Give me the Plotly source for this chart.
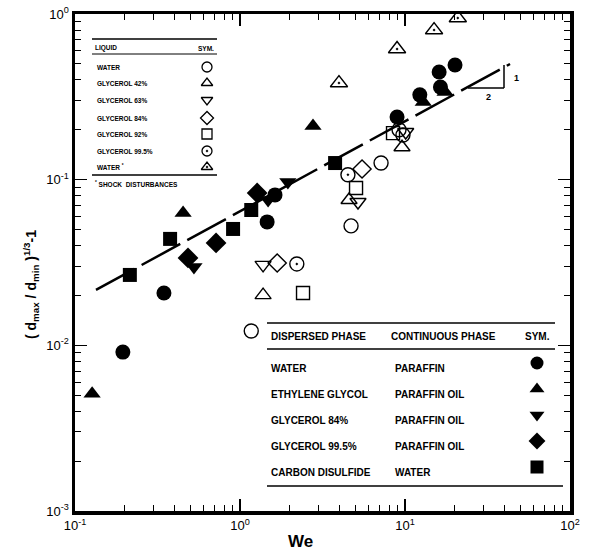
import plotly.graph_objects as go

# ---------------- data ----------------
water_paraffin_x = [0.195, 0.346, 1.46, 1.63, 8.95, 12.3, 16.1, 16.4, 20.1]
water_paraffin_y = [0.0091, 0.0207, 0.0556, 0.0809, 0.239, 0.325, 0.447, 0.362, 0.492]

ethylene_x = [0.127, 0.452, 2.77, 12.9, 17.5]
ethylene_y = [0.0051, 0.0630, 0.211, 0.294, 0.338]

gly84_paraffin_x = [0.526, 1.48, 1.95]
gly84_paraffin_y = [0.0297, 0.0754, 0.0968]

gly995_paraffin_x = [0.484, 0.716, 1.27]
gly995_paraffin_y = [0.0337, 0.0415, 0.0831]

cs2_water_x = [0.215, 0.377, 0.908, 1.17, 3.77]
cs2_water_y = [0.0266, 0.0439, 0.0504, 0.0656, 0.126]

liq_water_x = [1.17, 4.71, 7.16, 9.72]
liq_water_y = [0.0122, 0.0526, 0.126, 0.186]

liq_gly42_x = [1.38, 4.58, 9.59]
liq_gly42_y = [0.0201, 0.0754, 0.157]

liq_gly63_x = [1.38, 5.19, 10.1]
liq_gly63_y = [0.0306, 0.0733, 0.194]

liq_gly84_x = [1.68, 5.49]
liq_gly84_y = [0.0314, 0.116]

liq_gly92_x = [2.41, 5.05, 8.46]
liq_gly92_y = [0.0207, 0.0891, 0.191]

liq_gly995_x = [2.21, 4.51, 9.2]
liq_gly995_y = [0.031, 0.107, 0.2]

liq_water_shock_x = [3.98, 8.95, 15.0, 20.9]
liq_water_shock_y = [0.383, 0.615, 0.80, 0.946]

fit_x = [0.134, 43.3]
fit_y = [0.0216, 0.499]

x_tickvals = [0.1, 1, 10, 100]
x_ticktext = ["10<sup>-1</sup>", "10<sup>0</sup>", "10<sup>1</sup>", "10<sup>2</sup>"]
y_tickvals = [0.001, 0.01, 0.1, 1]
y_ticktext = ["10<sup>-3</sup>", "10<sup>-2</sup>", "10<sup>-1</sup>", "10<sup>0</sup>"]

liquid_labels = ["WATER", "GLYCEROL 42%", "GLYCEROL 63%", "GLYCEROL 84%",
                 "GLYCEROL 92%", "GLYCEROL 99.5%", "WATER <sup>*</sup>"]
liquid_symbols = ["circle-open", "triangle-up-open", "triangle-down-open", "diamond-open",
                  "square-open", "circle-open-dot", "triangle-up-open-dot"]

disp_labels = ["WATER", "ETHYLENE GLYCOL", "GLYCEROL 84%", "GLYCEROL 99.5%", "CARBON DISULFIDE"]
cont_labels = ["PARAFFIN", "PARAFFIN OIL", "PARAFFIN OIL", "PARAFFIN OIL", "WATER"]
disp_symbols = ["circle", "triangle-up", "triangle-down", "diamond", "square"]

# ---------------- layout helpers ----------------
W, H = 590, 552
L, R, T, B = 75, 570, 14, 511
def px(x):
    return (x - L) / (R - L)
def py(y):
    return (B - y) / (B - T)

BOLD = "Liberation Sans"
fig = go.Figure()

# fit line
fig.add_trace(go.Scatter(x=fit_x, y=fit_y, mode="lines",
                         line=dict(color="black", width=2.5, dash="44px,8px"),
                         showlegend=False, hoverinfo="skip"))

open_series = [
    (liq_water_x, liq_water_y, "circle-open", 14),
    (liq_gly42_x, liq_gly42_y, "triangle-up-open", 14),
    (liq_gly63_x, liq_gly63_y, "triangle-down-open", 14),
    (liq_gly84_x, liq_gly84_y, "diamond-open", 14),
    (liq_gly92_x, liq_gly92_y, "square-open", 13),
    (liq_gly995_x, liq_gly995_y, "circle-open-dot", 14),
    (liq_water_shock_x, liq_water_shock_y, "triangle-up-open-dot", 15),
]
for xs, ys, sym, sz in open_series:
    fig.add_trace(go.Scatter(x=xs, y=ys, mode="markers",
                             marker=dict(symbol=sym, size=sz, color="black",
                                         line=dict(color="black", width=1.4)),
                             showlegend=False))

filled_series = [
    (water_paraffin_x, water_paraffin_y, "circle", 15),
    (ethylene_x, ethylene_y, "triangle-up", 15),
    (gly84_paraffin_x, gly84_paraffin_y, "triangle-down", 15),
    (gly995_paraffin_x, gly995_paraffin_y, "diamond", 16),
    (cs2_water_x, cs2_water_y, "square", 14),
]
for xs, ys, sym, sz in filled_series:
    fig.add_trace(go.Scatter(x=xs, y=ys, mode="markers",
                             marker=dict(symbol=sym, size=sz, color="black",
                                         line=dict(width=0)),
                             showlegend=False))

# ---------------- legend tables ----------------
ann = []
shapes = []
def hline(x0, x1, y, w=1.2):
    shapes.append(dict(type="line", xref="paper", yref="paper",
                       x0=px(x0), x1=px(x1), y0=py(y), y1=py(y),
                       line=dict(color="black", width=w)))
def text(x, y, s, size, xanchor="left", bold=True, **kw):
    ann.append(dict(x=px(x), y=py(y), xref="paper", yref="paper", text=("<b>%s</b>" % s) if bold else s,
                    showarrow=False, xanchor=xanchor, yanchor="middle",
                    font=dict(family=BOLD, size=size, color="black"), **kw))

# legend 1 (liquids, open symbols)
hline(92, 217, 39, 1.6)
text(93, 48, "LIQUID", 6.5)
text(216, 48, "SYM.", 6.5, xanchor="right")
hline(92, 217, 54, 1.0)
rows1 = [67, 83, 100, 118, 134, 151, 167]
for lab, yy in zip(liquid_labels, rows1):
    text(95, yy, lab, 6.5)
hline(92, 217, 175, 1.4)
text(93, 184, "<sup>*</sup> SHOCK  DISTURBANCES", 6.5)

# legend 2 (dispersed / continuous)
hline(267, 555, 323, 1.4)
text(269, 336, "DISPERSED PHASE", 10)
text(389, 336, "CONTINUOUS PHASE", 10)
text(523, 336, "SYM.", 10)
hline(267, 555, 349, 1.4)
rows2 = [368, 394, 420, 446, 472]
for d, c, yy in zip(disp_labels, cont_labels, rows2):
    text(269, yy, d, 10)
    text(393, yy, c, 10)
hline(267, 563, 486, 1.4)

# slope triangle
shapes.append(dict(type="line", xref="paper", yref="paper",
                   x0=px(468), x1=px(504), y0=py(88), y1=py(88), line=dict(color="black", width=1.5)))
shapes.append(dict(type="line", xref="paper", yref="paper",
                   x0=px(504), x1=px(504), y0=py(88), y1=py(65), line=dict(color="black", width=1.5)))
text(512, 78, "1", 9)
text(488, 97, "2", 9, xanchor="center")

# axis titles
ann.append(dict(x=px(300), y=py(541), xref="paper", yref="paper", text="<b>We</b>",
                showarrow=False, xanchor="center", yanchor="middle",
                font=dict(family=BOLD, size=17, color="black")))
ann.append(dict(x=px(31), y=py(285), xref="paper", yref="paper",
                text="<b>( d<sub>max</sub> / d<sub>min</sub> )<sup>1/3</sup>-1</b>",
                textangle=-90, showarrow=False, xanchor="center", yanchor="middle",
                font=dict(family=BOLD, size=14, color="black")))

# legend glyphs on an overlay paper-like axis
g1x = [px(207)] * len(liquid_symbols)
g1y = [py(v) for v in rows1]
fig.add_trace(go.Scatter(x=g1x, y=g1y, xaxis="x2", yaxis="y2", mode="markers",
                         marker=dict(symbol=liquid_symbols, size=10, color="black",
                                     line=dict(color="black", width=1.3)),
                         showlegend=False, hoverinfo="skip"))
g2x = [px(537)] * len(disp_symbols)
g2y = [py(v - 5) for v in rows2]
fig.add_trace(go.Scatter(x=g2x, y=g2y, xaxis="x2", yaxis="y2", mode="markers",
                         marker=dict(symbol=disp_symbols, size=13, color="black", line=dict(width=0)),
                         showlegend=False, hoverinfo="skip"))

decades_x = [-1, 0, 1]
decades_y = [-3, -2, -1]
minor_x = [m * 10 ** e for e in decades_x for m in range(2, 10)]
minor_y = [m * 10 ** e for e in decades_y for m in range(2, 10)]

axis_common = dict(showgrid=False, zeroline=False, showline=True, linewidth=3.5, linecolor="black",
                   mirror="ticks", ticks="inside", ticklen=12, tickwidth=1.5, tickcolor="black",
                   automargin=False,
                   tickfont=dict(family=BOLD, size=13, color="black"))
fig.update_layout(
    width=W, height=H, margin=dict(l=L, r=W - R, t=T, b=H - B, pad=0, autoexpand=False),
    paper_bgcolor="white", plot_bgcolor="white", showlegend=False,
    xaxis=dict(type="log", range=[-1, 2], tickvals=x_tickvals, ticktext=x_ticktext,
               minor=dict(tickvals=minor_x, ticks="inside", ticklen=6, tickwidth=1, tickcolor="black"),
               **axis_common),
    yaxis=dict(type="log", range=[-3, 0], tickvals=y_tickvals, ticktext=y_ticktext,
               minor=dict(tickvals=minor_y, ticks="inside", ticklen=6, tickwidth=1, tickcolor="black"),
               **axis_common),
    xaxis2=dict(overlaying="x", range=[0, 1], visible=False, fixedrange=True),
    yaxis2=dict(overlaying="y", range=[0, 1], visible=False, fixedrange=True),
    annotations=ann, shapes=shapes,
)
fig.write_html("out.html", config={"displayModeBar": False, "staticPlot": True},
               post_script="document.body.style.margin='0';document.body.style.padding='0';")
